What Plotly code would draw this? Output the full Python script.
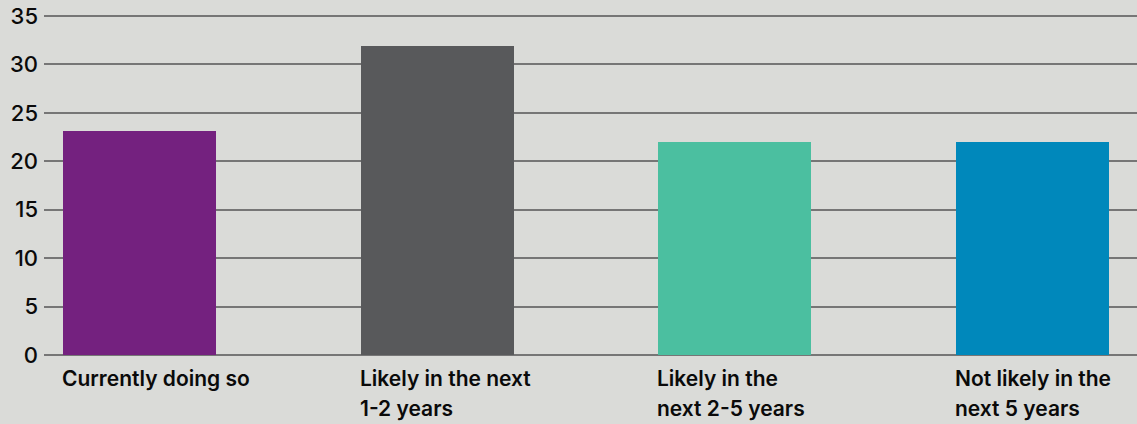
import plotly.graph_objects as go

categories = ["Currently doing so", "Likely in the next<br>1-2 years",
              "Likely in the<br>next 2-5 years", "Not likely in the<br>next 5 years"]
values = [23.1, 31.9, 22.0, 22.0]
colors = ["#74217f", "#58595b", "#4bbfa0", "#0088bb"]
y_ticks = [0, 5, 10, 15, 20, 25, 30, 35]

bar_w = 0.514
xs = list(range(len(categories)))

fig = go.Figure()
fig.add_trace(go.Bar(x=xs, y=values, marker=dict(color=colors, line=dict(width=0)),
                     width=bar_w, hoverinfo="skip"))

for i, c in enumerate(categories):
    for j, line in enumerate(c.split("<br>")):
        fig.add_annotation(x=i - bar_w / 2, y=0, xref="x", yref="y", text=line,
                           showarrow=False, xanchor="left", yanchor="top", align="left",
                           yshift=-9 - 30 * j, xshift=-3,
                           font=dict(family="Inter", size=21, color="#0a0a0a", weight=600))

fig.update_layout(
    width=1137, height=424,
    margin=dict(l=44, r=0, t=14, b=69),
    paper_bgcolor="#dadbd8", plot_bgcolor="#dadbd8",
    showlegend=False,
    bargap=0,
    xaxis=dict(range=[-0.321, 3.351], showticklabels=False, showgrid=False,
               zeroline=False, showline=False, fixedrange=True),
    yaxis=dict(range=[0, 35.2], tickvals=y_ticks, showgrid=True, gridcolor="#767676",
               gridwidth=1.5, zeroline=True, zerolinecolor="#767676", zerolinewidth=1.5,
               showline=False, ticks="", ticklabelstandoff=5, fixedrange=True,
               tickfont=dict(family="Inter", size=22, color="#0a0a0a", weight=500)),
)

fig.write_html("out.html", config={"displayModeBar": False},
               post_script="document.body.style.margin='0';")
